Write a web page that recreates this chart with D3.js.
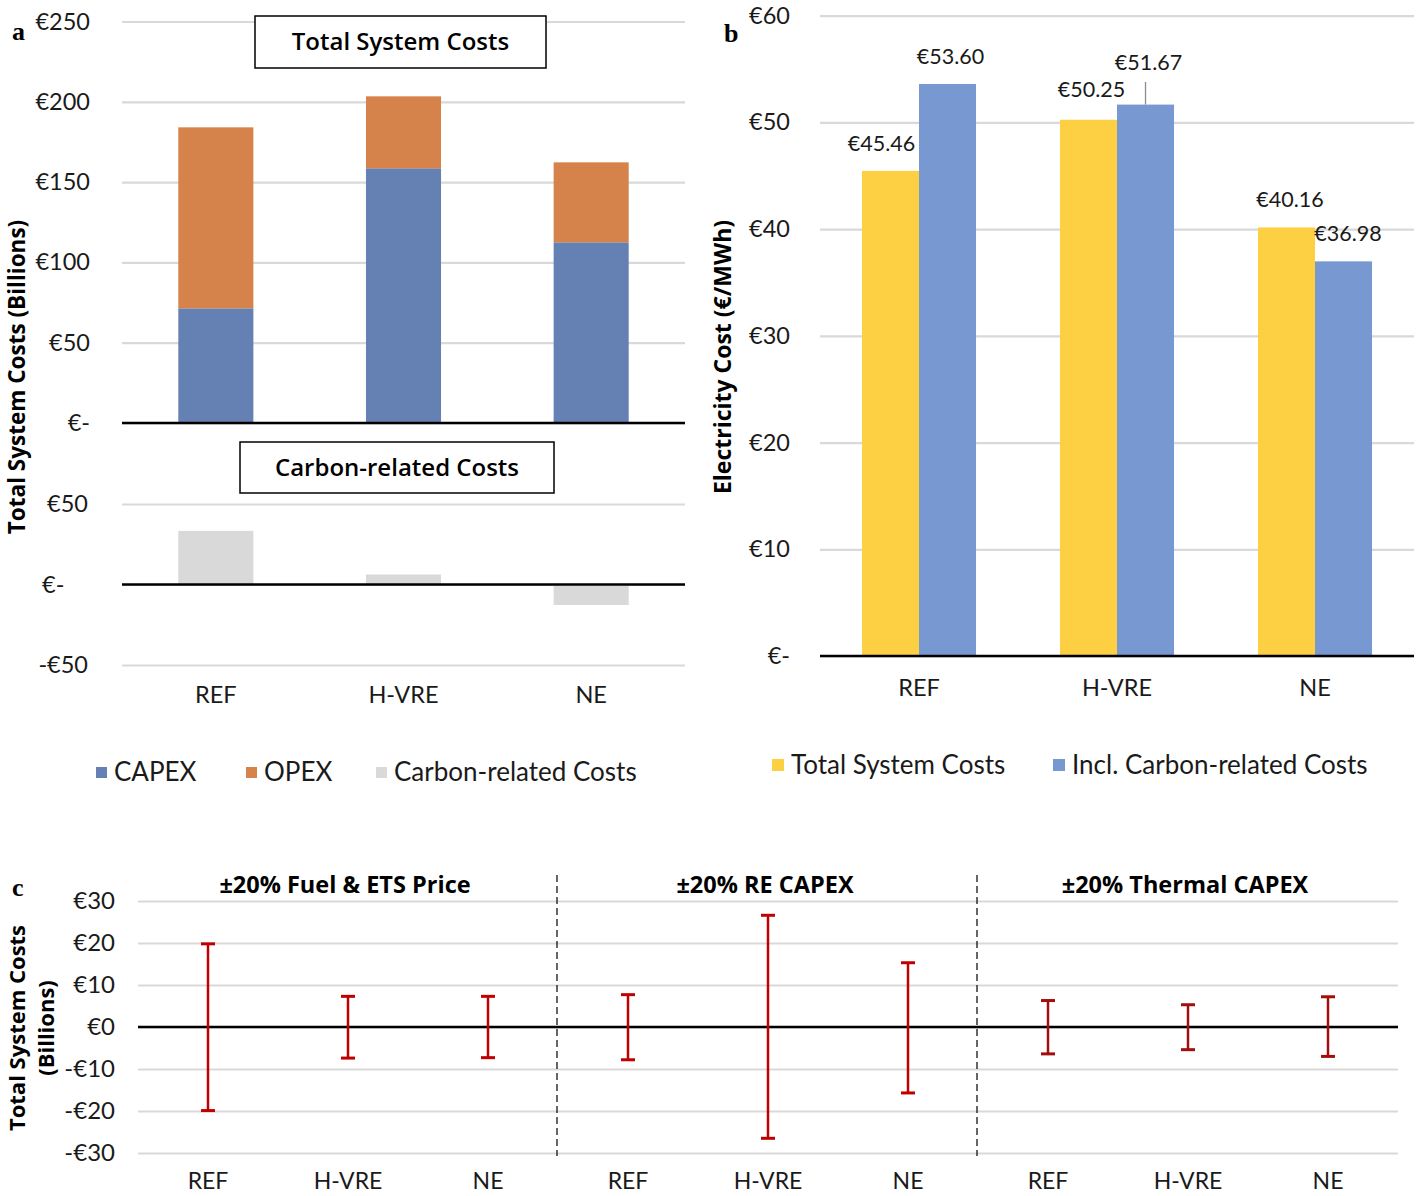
<!DOCTYPE html>
<html>
<head>
<meta charset="utf-8">
<script src="https://cdn.jsdelivr.net/npm/d3@7"></script>
<style>
  html, body { margin: 0; padding: 0; background: #fff; }
  svg { display: block; }
  .tick text { font-family: Lato, "Open Sans", sans-serif; fill: #1a1a1a; }
</style>
</head>
<body>
<svg id="chart" width="1418" height="1196"></svg>
<script>
// ---------------- DATA ----------------
const scenarios = ["REF", "H-VRE", "NE"];
const capex = [71.4, 158.6, 112.5];
const opex = [112.7, 44.8, 49.8];
const carbonCosts = [33.3, 6.2, -12.7];

const costSeries = ["Total System Costs", "Incl. Carbon-related Costs"];
const lcoeTotal = [45.46, 50.25, 40.16];
const lcoeInclCarbon = [53.60, 51.67, 36.98];

const sensGroups = ["±20% Fuel & ETS Price", "±20% RE CAPEX", "±20% Thermal CAPEX"];
const sensUp = [19.8, 7.3, 7.3, 7.7, 26.6, 15.3, 6.3, 5.3, 7.2];
const sensDown = [19.9, 7.4, 7.3, 7.8, 26.5, 15.7, 6.4, 5.4, 7.0];

const ticksATop = [0, 50, 100, 150, 200, 250];
const ticksABottom = [-50, 0, 50];
const ticksB = [0, 10, 20, 30, 40, 50, 60];
const ticksC = [-30, -20, -10, 0, 10, 20, 30];

// ---------------- STYLE ----------------
const C_CAPEX = "#6580b2";
const C_OPEX = "#d5834b";
const C_CARBON = "#d9d9d9";
const C_YELLOW = "#fdd044";
const C_BLUE = "#7898d2";
const C_GRID = "#d9d9d9";
const C_ERR = ["#c00000", "#c00000", "#a30d0d"];
const FONT = "Lato, 'Open Sans', sans-serif";
const FONT_B = "'Open Sans', Lato, sans-serif";

const svg = d3.select("#chart");

function euro(v) {
  if (v === 0) return "€-";
  return (v < 0 ? "-€" : "€") + Math.abs(v);
}
function euroC(v) {
  return (v < 0 ? "-€" : "€") + Math.abs(v);
}

function styleGridAxis(g, fontSize) {
  g.select(".domain").remove();
  g.selectAll(".tick line").attr("stroke", C_GRID).attr("stroke-width", 2.2);
  g.selectAll(".tick text").attr("font-size", fontSize).attr("fill", "#1a1a1a");
}

// ================= PANEL A =================
const aLeft = 122, aRight = 685;
const xA = d3.scaleBand().domain(scenarios).range([aLeft, aRight]).paddingInner(0).paddingOuter(0);
const barWA = xA.bandwidth() * 0.4;
const yATop = d3.scaleLinear().domain([0, 250]).range([423, 21.5]);
const yABot = d3.scaleLinear().domain([-50, 50]).range([665, 504]);

const gAT = svg.append("g").attr("transform", `translate(${aLeft},0)`)
  .call(d3.axisLeft(yATop).tickValues(ticksATop).tickFormat(euro)
    .tickSize(-(aRight - aLeft)).tickPadding(32));
styleGridAxis(gAT, 23.5);

const gAB = svg.append("g").attr("transform", `translate(${aLeft},0)`)
  .call(d3.axisLeft(yABot).tickValues(ticksABottom).tickFormat(euro)
    .tickSize(-(aRight - aLeft)).tickPadding(34));
styleGridAxis(gAB, 23.5);
gAB.selectAll(".tick").filter(d => d === 0).select("text")
  .attr("text-anchor", "start").attr("x", 42 - aLeft);

// stacked bars
const stackData = scenarios.map((s, i) => ({ s, capex: capex[i], opex: opex[i] }));
const stack = d3.stack().keys(["capex", "opex"])(stackData);
const stackColors = { capex: C_CAPEX, opex: C_OPEX };
svg.append("g").selectAll("g").data(stack).join("g")
  .attr("fill", d => stackColors[d.key])
  .selectAll("rect").data(d => d).join("rect")
  .attr("x", d => xA(d.data.s) + (xA.bandwidth() - barWA) / 2)
  .attr("width", barWA)
  .attr("y", d => yATop(d[1]))
  .attr("height", d => yATop(d[0]) - yATop(d[1]));

// carbon bars
svg.append("g").selectAll("rect").data(scenarios).join("rect")
  .attr("fill", C_CARBON)
  .attr("x", d => xA(d) + (xA.bandwidth() - barWA) / 2)
  .attr("width", barWA)
  .attr("y", (d, i) => yABot(Math.max(0, carbonCosts[i])))
  .attr("height", (d, i) => Math.abs(yABot(carbonCosts[i]) - yABot(0)));

// zero lines
svg.append("line").attr("x1", aLeft).attr("x2", aRight)
  .attr("y1", yATop(0)).attr("y2", yATop(0)).attr("stroke", "#000").attr("stroke-width", 2.5);
svg.append("line").attr("x1", aLeft).attr("x2", aRight)
  .attr("y1", yABot(0)).attr("y2", yABot(0)).attr("stroke", "#000").attr("stroke-width", 2.5);

// category labels
svg.append("g").selectAll("text").data(scenarios).join("text")
  .attr("x", d => xA(d) + xA.bandwidth() / 2).attr("y", 703)
  .attr("text-anchor", "middle").attr("font-family", FONT).attr("font-size", 23.5)
  .attr("fill", "#1a1a1a").text(d => d);

// boxed titles
function boxTitle(x0, y0, x1, y1, txt, fs) {
  svg.append("rect").attr("x", x0).attr("y", y0).attr("width", x1 - x0).attr("height", y1 - y0)
    .attr("fill", "#fff").attr("stroke", "#000").attr("stroke-width", 1.5);
  svg.append("text").attr("x", (x0 + x1) / 2).attr("y", (y0 + y1) / 2 + 8)
    .attr("text-anchor", "middle").attr("font-family", FONT_B).attr("font-weight", 600)
    .attr("font-size", fs).attr("fill", "#000").text(txt);
}
boxTitle(255, 16, 546, 68, "Total System Costs", 24);
boxTitle(240, 442, 554, 493, "Carbon-related Costs", 24);

// y title
svg.append("text").attr("transform", "translate(25,377) rotate(-90)")
  .attr("text-anchor", "middle").attr("font-family", FONT_B).attr("font-weight", 700)
  .attr("font-size", 22.5).attr("fill", "#000").text("Total System Costs (Billions)");

// legend a
const legA = [{ t: "CAPEX", c: C_CAPEX, x: 96 }, { t: "OPEX", c: C_OPEX, x: 246 }, { t: "Carbon-related Costs", c: C_CARBON, x: 376 }];
const lgA = svg.append("g").selectAll("g").data(legA).join("g");
lgA.append("rect").attr("x", d => d.x).attr("y", 767).attr("width", 11).attr("height", 11).attr("fill", d => d.c);
lgA.append("text").attr("x", d => d.x + 18).attr("y", 781).attr("font-family", FONT).attr("font-size", 26)
  .attr("fill", "#1a1a1a").text(d => d.t);

// panel letter
svg.append("text").attr("x", 12).attr("y", 40).attr("font-family", "'Liberation Serif', serif")
  .attr("font-weight", 700).attr("font-size", 26).text("a");

// ================= PANEL B =================
const bLeft = 820, bRight = 1414;
const xB = d3.scaleBand().domain(scenarios).range([bLeft, bRight]).paddingInner(0).paddingOuter(0);
const groupW = xB.bandwidth() * 0.576;
const xB1 = d3.scaleBand().domain(costSeries).range([0, groupW]);
const yB = d3.scaleLinear().domain([0, 60]).range([656, 15.7]);

const gB = svg.append("g").attr("transform", `translate(${bLeft},0)`)
  .call(d3.axisLeft(yB).tickValues(ticksB).tickFormat(euro)
    .tickSize(-(bRight - bLeft)).tickPadding(30));
styleGridAxis(gB, 23.5);

const bData = scenarios.map((s, i) => ({ s, vals: [lcoeTotal[i], lcoeInclCarbon[i]] }));
const bColors = [C_YELLOW, C_BLUE];
const bGroups = svg.append("g").selectAll("g").data(bData).join("g")
  .attr("transform", d => `translate(${xB(d.s) + (xB.bandwidth() - groupW) / 2},0)`);
bGroups.selectAll("rect").data(d => d.vals.map((v, j) => ({ v, k: costSeries[j], j }))).join("rect")
  .attr("x", d => xB1(d.k)).attr("width", xB1.bandwidth())
  .attr("y", d => yB(d.v)).attr("height", d => yB(0) - yB(d.v))
  .attr("fill", d => bColors[d.j]);

svg.append("line").attr("x1", bLeft).attr("x2", bRight)
  .attr("y1", yB(0)).attr("y2", yB(0)).attr("stroke", "#000").attr("stroke-width", 2.5);

// value labels (offsets per label to mimic layout)
const labOff = [
  [[-9, -20], [3, -20]],
  [[3, -23], [3, -35]],
  [[3.5, -20], [4.5, -20]]
];
bData.forEach((d, i) => {
  d.vals.forEach((v, j) => {
    const cx = xB(d.s) + (xB.bandwidth() - groupW) / 2 + xB1(costSeries[j]) + xB1.bandwidth() / 2;
    svg.append("text").attr("x", cx + labOff[i][j][0]).attr("y", yB(v) + labOff[i][j][1])
      .attr("text-anchor", "middle").attr("font-family", FONT).attr("font-size", 21.5)
      .attr("fill", "#1a1a1a").text("€" + v.toFixed(2));
  });
});
// leader line for H-VRE incl. carbon
{
  const cx = xB("H-VRE") + (xB.bandwidth() - groupW) / 2 + xB1(costSeries[1]) + xB1.bandwidth() / 2;
  svg.append("line").attr("x1", cx).attr("x2", cx)
    .attr("y1", 82).attr("y2", yB(lcoeInclCarbon[1]))
    .attr("stroke", "#8c8c8c").attr("stroke-width", 1.3);
}

svg.append("g").selectAll("text").data(scenarios).join("text")
  .attr("x", d => xB(d) + xB.bandwidth() / 2).attr("y", 696)
  .attr("text-anchor", "middle").attr("font-family", FONT).attr("font-size", 23.5)
  .attr("fill", "#1a1a1a").text(d => d);

svg.append("text").attr("transform", "translate(731,357) rotate(-90)")
  .attr("text-anchor", "middle").attr("font-family", FONT_B).attr("font-weight", 700)
  .attr("font-size", 23).attr("fill", "#000").text("Electricity Cost (€/MWh)");

const legB = [{ t: costSeries[0], c: C_YELLOW, x: 772 }, { t: costSeries[1], c: C_BLUE, x: 1053 }];
const lgB = svg.append("g").selectAll("g").data(legB).join("g");
lgB.append("rect").attr("x", d => d.x).attr("y", 759).attr("width", 12).attr("height", 12).attr("fill", d => d.c);
lgB.append("text").attr("x", d => d.x + 19).attr("y", 774).attr("font-family", FONT).attr("font-size", 26)
  .attr("fill", "#1a1a1a").text(d => d.t);

svg.append("text").attr("x", 724).attr("y", 42).attr("font-family", "'Liberation Serif', serif")
  .attr("font-weight", 700).attr("font-size", 26).text("b");

// ================= PANEL C =================
const cLeft = 138, cRight = 1398;
const cCats = [];
sensGroups.forEach((g, gi) => scenarios.forEach(s => cCats.push(gi + "|" + s)));
const xC = d3.scaleBand().domain(cCats).range([cLeft, cRight]).paddingInner(0).paddingOuter(0);
const yC = d3.scaleLinear().domain([-30, 30]).range([1153, 901]);

const gC = svg.append("g").attr("transform", `translate(${cLeft},0)`)
  .call(d3.axisLeft(yC).tickValues(ticksC).tickFormat(euroC)
    .tickSize(-(cRight - cLeft)).tickPadding(23));
styleGridAxis(gC, 24);

svg.append("line").attr("x1", cLeft).attr("x2", cRight)
  .attr("y1", yC(0)).attr("y2", yC(0)).attr("stroke", "#000").attr("stroke-width", 2.5);

// dividers
[1, 2].forEach(k => {
  const x = xC(cCats[k * 3]);
  svg.append("line").attr("x1", x - 1).attr("x2", x - 1).attr("y1", 875).attr("y2", 1156)
    .attr("stroke", "#000").attr("stroke-width", 1.2).attr("stroke-dasharray", "7,4");
});

// error bars
const eb = svg.append("g").selectAll("g").data(cCats).join("g")
  .attr("stroke", (d, i) => C_ERR[Math.floor(i / 3)]).attr("stroke-width", 2.5);
eb.append("line")
  .attr("x1", d => xC(d) + xC.bandwidth() / 2).attr("x2", d => xC(d) + xC.bandwidth() / 2)
  .attr("y1", (d, i) => yC(sensUp[i])).attr("y2", (d, i) => yC(-sensDown[i]));
eb.append("line")
  .attr("x1", d => xC(d) + xC.bandwidth() / 2 - 7).attr("x2", d => xC(d) + xC.bandwidth() / 2 + 7)
  .attr("y1", (d, i) => yC(sensUp[i])).attr("y2", (d, i) => yC(sensUp[i])).attr("stroke-width", 3);
eb.append("line")
  .attr("x1", d => xC(d) + xC.bandwidth() / 2 - 7).attr("x2", d => xC(d) + xC.bandwidth() / 2 + 7)
  .attr("y1", (d, i) => yC(-sensDown[i])).attr("y2", (d, i) => yC(-sensDown[i])).attr("stroke-width", 3);

svg.append("g").selectAll("text").data(cCats).join("text")
  .attr("x", d => xC(d) + xC.bandwidth() / 2).attr("y", 1189)
  .attr("text-anchor", "middle").attr("font-family", FONT).attr("font-size", 23)
  .attr("fill", "#1a1a1a").text(d => d.split("|")[1]);

svg.append("g").selectAll("text").data(sensGroups).join("text")
  .attr("x", (d, i) => xC(cCats[i * 3 + 1]) + xC.bandwidth() / 2 - 3).attr("y", 893)
  .attr("text-anchor", "middle").attr("font-family", FONT_B).attr("font-weight", 700)
  .attr("font-size", 23.5).attr("fill", "#000").text(d => d);

const ct = svg.append("text").attr("transform", "translate(25,1028) rotate(-90)")
  .attr("text-anchor", "middle").attr("font-family", FONT_B).attr("font-weight", 700)
  .attr("font-size", 22).attr("fill", "#000");
ct.append("tspan").attr("x", 0).attr("dy", 0).text("Total System Costs");
ct.append("tspan").attr("x", 0).attr("dy", 29).text("(Billions)");

svg.append("text").attr("x", 12).attr("y", 896).attr("font-family", "'Liberation Serif', serif")
  .attr("font-weight", 700).attr("font-size", 26).text("c");
</script>
</body>
</html>
